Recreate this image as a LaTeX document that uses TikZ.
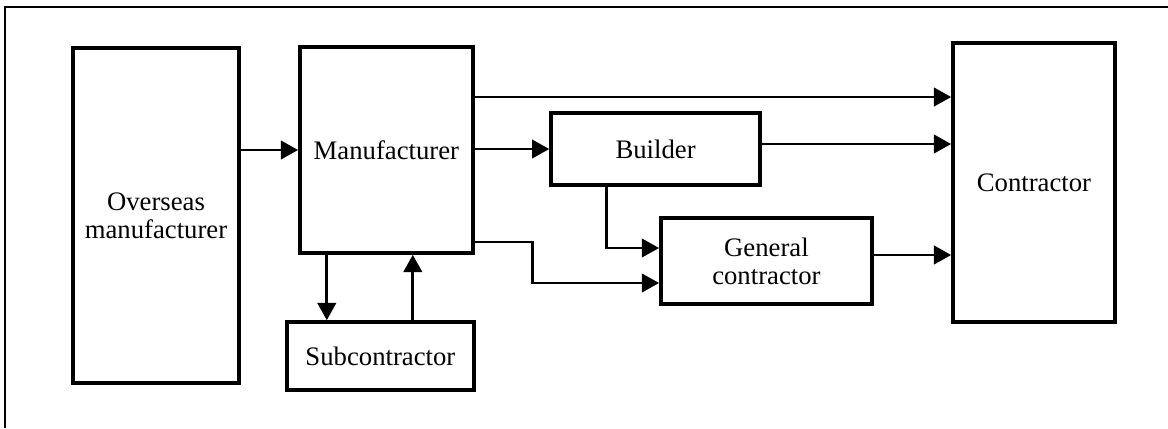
\documentclass[tikz,border=0pt]{standalone}
\usepackage{fontspec}
\setmainfont{Liberation Serif}
\usetikzlibrary{arrows.meta, calc}

\begin{document}
\begin{tikzpicture}[>={Triangle[length=4.3mm, width=4.6mm]}, line width=1.9pt,
  every node/.style={font=\fontsize{19}{20}\selectfont},
  unit/.style={draw, line width=2.6pt, align=center, inner sep=0pt}]
  \useasboundingbox (0,0) rectangle (29.2,-10.7);
  \draw[line width=1.3pt] (0.125,-10.7) -- (0.125,-0.18) -- (29.2,-0.18);
  \node[unit, minimum width=4.15cm, minimum height=8.375cm] (overseas) at (3.90,-5.39) {Overseas\\manufacturer};
  \node[unit, minimum width=4.325cm, minimum height=5.15cm] (manu) at (9.66,-3.75) {Manufacturer};
  \node[unit, minimum width=4.675cm, minimum height=1.7cm] (sub) at (9.51,-8.9) {Subcontractor};
  \node[unit, minimum width=5.225cm, minimum height=1.8cm] (builder) at (16.39,-3.725) {Builder};
  \node[unit, minimum width=5.275cm, minimum height=2.15cm] (gc) at (19.16,-6.525) {General\\contractor};
  \node[unit, minimum width=4.05cm, minimum height=6.975cm] (contractor) at (25.85,-4.5625) {Contractor};
  \draw[->] (overseas.east |- manu.west) -- (manu.west);
  \draw[->] ($(manu.east)+(0,1.325)$) -- ($(contractor.west |- manu.east)+(0,1.325)$);
  \draw[->] (manu.east |- builder.west) -- (builder.west);
  \draw[->] ($(builder.east)+(0,0.125)$) -- ($(contractor.west |- builder.east)+(0,0.125)$);
  \draw[->] ($(manu.east)+(0,-2.3)$) -| ($(gc.west)+(-3.17,-0.55)$) -- ($(gc.west)+(0,-0.55)$);
  \draw[->] ($(builder.south)+(-1.23,0)$) |- ($(gc.west)+(0,0.325)$);
  \draw[->] ($(gc.east)+(0,0.15)$) -- ($(contractor.west |- gc.east)+(0,0.15)$);
  \coordinate (down) at ($(manu.south)+(-1.49,0)$);
  \coordinate (up) at ($(sub.north)+(0.81,0)$);
  \draw[->] (down) -- (down |- sub.north);
  \draw[->] (up) -- (up |- manu.south);
\end{tikzpicture}
\end{document}
